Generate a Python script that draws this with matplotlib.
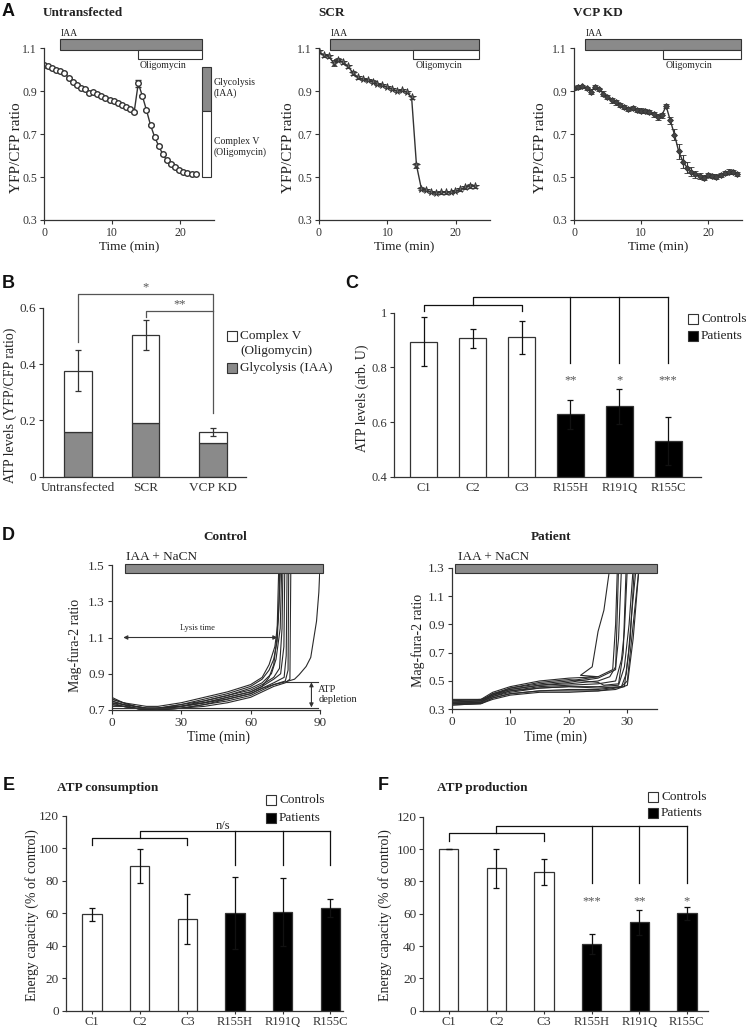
import numpy as np
import matplotlib
matplotlib.use('Agg')
import matplotlib.pyplot as plt
from matplotlib.patches import Rectangle

plt.rcParams['font.family'] = ['Liberation Serif', 'DejaVu Sans']
plt.rcParams['text.color'] = '#222222'
plt.rcParams['axes.edgecolor'] = '#333333'
plt.rcParams['xtick.color'] = '#333333'
plt.rcParams['ytick.color'] = '#333333'

GRAY = '#8a8a8a'
INK = '#333333'

# ---------------- panel A: YFP/CFP ratio over time ----------------
untr_vals = [1.019, 1.014, 1.006, 0.998, 0.992, 0.983, 0.962, 0.944, 0.927, 0.916,
             0.908, 0.892, 0.897, 0.886, 0.877, 0.867, 0.859, 0.853, 0.844, 0.833,
             0.827, 0.816, 0.802, 0.936, 0.877, 0.811, 0.741, 0.686, 0.644, 0.605,
             0.577, 0.559, 0.545, 0.533, 0.525, 0.519, 0.514, 0.516]
untr_err = [0.004, 0.004, 0.004, 0.004, 0.004, 0.004, 0.004, 0.004, 0.004, 0.004,
            0.004, 0.004, 0.004, 0.004, 0.004, 0.004, 0.004, 0.004, 0.004, 0.004,
            0.004, 0.004, 0.004, 0.016, 0.006, 0.006, 0.006, 0.006, 0.005, 0.004,
            0.004, 0.004, 0.004, 0.004, 0.004, 0.004, 0.004, 0.004]
untr_tend = 22.3

scr_vals = [1.084, 1.066, 1.061, 1.030, 1.046, 1.033, 1.014, 0.983, 0.963, 0.955,
            0.951, 0.944, 0.933, 0.926, 0.919, 0.910, 0.900, 0.905, 0.895, 0.871,
            0.555, 0.446, 0.438, 0.431, 0.426, 0.428, 0.428, 0.431, 0.435, 0.443,
            0.452, 0.459, 0.457]
scr_err = [0.008, 0.006, 0.006, 0.012, 0.006, 0.006, 0.006, 0.008, 0.006, 0.005,
           0.005, 0.005, 0.005, 0.005, 0.005, 0.005, 0.005, 0.005, 0.005, 0.006,
           0.012, 0.006, 0.005, 0.005, 0.005, 0.005, 0.005, 0.005, 0.005, 0.006,
           0.007, 0.008, 0.008]
scr_tend = 22.8

vcp_vals = [0.912, 0.919, 0.922, 0.912, 0.897, 0.919, 0.908, 0.888, 0.872, 0.856,
            0.848, 0.834, 0.825, 0.817, 0.822, 0.811, 0.809, 0.806, 0.803, 0.791,
            0.780, 0.788, 0.830, 0.763, 0.697, 0.619, 0.572, 0.544, 0.525, 0.512,
            0.505, 0.497, 0.509, 0.505, 0.502, 0.509, 0.517, 0.525, 0.522, 0.514]
vcp_err = [0.008, 0.008, 0.008, 0.008, 0.010, 0.008, 0.008, 0.010, 0.010, 0.010,
           0.012, 0.010, 0.010, 0.010, 0.010, 0.010, 0.010, 0.010, 0.010, 0.012,
           0.014, 0.012, 0.010, 0.015, 0.025, 0.035, 0.030, 0.025, 0.020, 0.015,
           0.012, 0.010, 0.010, 0.010, 0.010, 0.010, 0.010, 0.010, 0.010, 0.008]
vcp_tend = 24.3

# ---------------- panel B ----------------
b_groups = ['Untransfected', 'SCR', 'VCP KD']
b_glyco = [0.160, 0.191, 0.120]
b_total = [0.377, 0.503, 0.158]
b_err = [0.072, 0.054, 0.015]

# ---------------- panel C ----------------
lines = ['C1', 'C2', 'C3', 'R155H', 'R191Q', 'R155C']
is_patient = [False, False, False, True, True, True]
c_vals = [0.894, 0.907, 0.910, 0.628, 0.658, 0.530]
c_err = [0.090, 0.035, 0.060, 0.052, 0.064, 0.087]
c_stars = ['', '', '', '**', '*', '***']

# ---------------- panel D: mag-fura-2 traces ----------------
ctrl_t = [0, 5, 10, 15, 20, 30, 40, 50, 60]
ctrl_base = [
    [0.77, 0.74, 0.72, 0.71, 0.71, 0.73, 0.76, 0.79, 0.83],
    [0.76, 0.74, 0.73, 0.72, 0.72, 0.74, 0.77, 0.80, 0.84],
    [0.75, 0.73, 0.72, 0.71, 0.71, 0.73, 0.75, 0.78, 0.82],
    [0.74, 0.73, 0.71, 0.70, 0.71, 0.72, 0.75, 0.78, 0.81],
    [0.73, 0.72, 0.71, 0.70, 0.70, 0.72, 0.74, 0.77, 0.80],
    [0.75, 0.73, 0.72, 0.71, 0.71, 0.72, 0.74, 0.76, 0.79],
    [0.74, 0.72, 0.71, 0.70, 0.70, 0.71, 0.73, 0.75, 0.78],
    [0.72, 0.72, 0.71, 0.70, 0.70, 0.71, 0.72, 0.74, 0.77],
    [0.76, 0.74, 0.72, 0.71, 0.71, 0.72, 0.74, 0.77, 0.80],
    [0.73, 0.72, 0.71, 0.70, 0.70, 0.71, 0.73, 0.76, 0.79],
]
ctrl_tail = [
    [(65, 0.87), (68, 0.92), (70, 0.98), (71.5, 1.08), (72.3, 1.3), (72.6, 1.5)],
    [(65, 0.88), (68, 0.95), (70.5, 1.05), (72, 1.2), (73.0, 1.5)],
    [(65, 0.85), (69, 0.90), (71, 0.98), (72.8, 1.15), (73.5, 1.5)],
    [(65, 0.84), (70, 0.88), (72.5, 0.93), (73.6, 1.15), (74.0, 1.5)],
    [(65, 0.83), (70, 0.87), (73, 0.90), (74.4, 1.05), (74.8, 1.5)],
    [(65, 0.82), (70, 0.85), (74.5, 0.88), (75.4, 1.0), (75.8, 1.5)],
    [(65, 0.81), (70, 0.84), (75, 0.86), (76.2, 0.92), (76.5, 1.5)],
    [(65, 0.80), (70, 0.83), (75, 0.85), (77, 0.87), (77.4, 1.5)],
    [(65, 0.83), (68, 0.88), (70, 0.95), (71.4, 1.1), (72.2, 1.5)],
    [(65, 0.82), (70, 0.84), (75, 0.855), (79, 0.87), (81, 0.895), (84, 0.94),
     (86, 0.99), (88.5, 1.19), (89.5, 1.35), (90, 1.5)],
]

pat_t = [0, 5, 7, 10, 15, 20, 25]
pat_base = [
    [0.36, 0.37, 0.42, 0.46, 0.50, 0.52, 0.53],
    [0.35, 0.36, 0.41, 0.45, 0.48, 0.50, 0.53],
    [0.35, 0.35, 0.40, 0.44, 0.47, 0.48, 0.50],
    [0.34, 0.35, 0.39, 0.43, 0.46, 0.47, 0.48],
    [0.34, 0.35, 0.39, 0.42, 0.45, 0.46, 0.46],
    [0.35, 0.36, 0.40, 0.43, 0.45, 0.46, 0.45],
    [0.33, 0.34, 0.38, 0.41, 0.43, 0.44, 0.44],
    [0.36, 0.36, 0.41, 0.44, 0.47, 0.49, 0.52],
    [0.34, 0.34, 0.38, 0.41, 0.43, 0.43, 0.43],
    [0.37, 0.37, 0.40, 0.45, 0.49, 0.51, 0.49],
    [0.33, 0.34, 0.37, 0.40, 0.42, 0.42, 0.43],
]
pat_tail = [
    [(22, 0.54), (24, 0.60), (25, 0.85), (26, 1.0), (27, 1.3)],
    [(26, 0.55), (27.5, 0.58), (28, 0.9), (28.3, 1.3)],
    [(27, 0.53), (28, 0.60), (28.5, 0.8), (29, 1.3)],
    [(28, 0.50), (29, 0.65), (29.5, 0.85), (30, 1.3)],
    [(28.5, 0.47), (29.5, 0.60), (30.3, 0.9), (31, 1.3)],
    [(29, 0.46), (29.8, 0.55), (30.5, 0.8), (31.2, 1.3)],
    [(29, 0.46), (30, 0.50), (31, 0.9), (32, 1.3)],
    [(27, 0.56), (28, 0.58), (28.5, 1.3)],
    [(29.5, 0.46), (30.2, 0.70), (30.8, 1.0), (31.5, 1.3)],
    [(26, 0.47), (28.5, 0.48), (29.3, 0.7), (29.8, 1.3)],
    [(28, 0.44), (30, 0.47), (31, 0.8), (32, 1.3)],
]

# ---------------- panels E, F ----------------
e_vals = [59.4, 89.4, 56.3, 60.0, 60.8, 63.3]
e_err = [3.9, 10.4, 15.4, 22.2, 20.8, 5.7]
f_vals = [100.0, 88.0, 86.0, 41.2, 54.6, 60.2]
f_err = [0.0, 12.0, 8.0, 6.2, 7.7, 4.1]
f_stars = ['', '', '', '***', '**', '*']

W, H = 747, 1027
fig = plt.figure(figsize=(W / 100, H / 100), dpi=100)


def px_ax(l, t, r, b):
    return fig.add_axes([l / W, 1 - b / H, (r - l) / W, (b - t) / H])


def ftxt(x, y, s, **kw):
    fig.text(x / W, 1 - y / H, s, **kw)


def key(x, y, face, label, fs=9.5):
    s = 10
    fig.patches.append(Rectangle((x / W, 1 - (y + s / 2) / H), s / W, s / H,
                                 transform=fig.transFigure, fc=face, ec=INK, lw=0.8))
    ftxt(x + s + 3, y, label, fontsize=fs, va='center', ha='left')


def style(ax, fs=9):
    for s in ['top', 'right']:
        ax.spines[s].set_visible(False)
    for s in ['left', 'bottom']:
        ax.spines[s].set_linewidth(0.9)
    ax.tick_params(direction='out', length=3, width=0.8, labelsize=fs, pad=2)


def panel_letter(x, y, s):
    ftxt(x, y, s, fontsize=13, fontweight='bold', family='Liberation Sans',
         va='center', ha='left', color='#111111')


# ---------------- A ----------------
a_specs = [
    ('Untransfected', untr_vals, untr_err, untr_tend, (44, 214), 17, (2.3, 23.3, 13.8),
     dict(marker='o', ms=4, mfc='white', mec=INK, mew=1.0)),
    ('SCR', scr_vals, scr_err, scr_tend, (319, 490), 288, (1.6, 23.4, 13.8),
     dict(marker='*', ms=5.5, mfc='#666666', mec=INK, mew=0.6)),
    ('VCP KD', vcp_vals, vcp_err, vcp_tend, (574, 742), 540, (1.6, 24.9, 13.3),
     dict(marker='D', ms=3, mfc='#444444', mec=INK, mew=0.6)),
]
for name, vals, err, tend, (l, r), ylx, (t0, t1, tol), mk in a_specs:
    ax = px_ax(l, 48, r, 220)
    t = np.linspace(0, tend, len(vals))
    ax.errorbar(t, vals, yerr=err, color=INK, lw=1.0, ecolor=INK, elinewidth=0.8,
                capsize=2, capthick=0.8, **mk)
    ax.set_xlim(0, 25)
    ax.set_ylim(0.3, 1.1)
    ax.set_yticks([0.3, 0.5, 0.7, 0.9, 1.1])
    ax.set_xticks([0, 10, 20])
    style(ax, fs=8.5)
    ax.add_patch(Rectangle((t0, 1.093), t1 - t0, 0.047, fc=GRAY, ec=INK, lw=0.8, clip_on=False))
    ax.add_patch(Rectangle((tol, 1.047), t1 - tol, 0.046, fc='white', ec=INK, lw=0.8, clip_on=False))
    ax.text(t0 + 0.1, 1.168, 'IAA', fontsize=7, va='center', ha='left')
    ax.text(tol + 0.3, 1.018, 'Oligomycin', fontsize=7, va='center', ha='left')
    ftxt(l - 1, 13, name, fontsize=9.5, fontweight='bold', va='center', ha='left')
    ftxt(ylx, 148, 'YFP/CFP ratio', fontsize=11, rotation=90, va='center', ha='center')
    ftxt((l + r) / 2, 247, 'Time (min)', fontsize=9.5, va='center', ha='center')
    if name == 'Untransfected':
        ax.add_patch(Rectangle((23.3, 0.806), 1.3, 0.206, fc=GRAY, ec=INK, lw=0.8, clip_on=False))
        ax.add_patch(Rectangle((23.3, 0.499), 1.3, 0.307, fc='white', ec=INK, lw=0.8, clip_on=False))
        ax.text(25.0, 0.915, 'Glycolysis\n(IAA)', fontsize=7, va='center', ha='left', linespacing=1.2)
        ax.text(25.0, 0.64, 'Complex V\n(Oligomycin)', fontsize=7, va='center', ha='left', linespacing=1.2)
panel_letter(2, 12, 'A')

# ---------------- B ----------------
ax = px_ax(43, 308, 246, 476.7)
xb = np.arange(len(b_groups))
ax.bar(xb, b_glyco, 0.41, color=GRAY, edgecolor=INK, lw=0.9)
ax.bar(xb, np.array(b_total) - np.array(b_glyco), 0.41, bottom=b_glyco,
       color='white', edgecolor=INK, lw=0.9)
ax.errorbar(xb, b_total, yerr=b_err, fmt='none', ecolor=INK, elinewidth=0.9,
            capsize=2.5, capthick=0.9)
ax.set_xlim(-0.52, 2.49)
ax.set_ylim(0, 0.6)
ax.set_yticks([0, 0.2, 0.4, 0.6])
ax.set_yticklabels(['0', '0.2', '0.4', '0.6'])
ax.set_xticks(xb)
ax.set_xticklabels(b_groups)
style(ax, fs=9.5)
ax.tick_params(axis='x', length=0, pad=4)
ax.plot([0, 0, 2, 2], [0.48, 0.649, 0.649, 0.226], color='#555555', lw=0.9, clip_on=False)
ax.plot([1, 1, 2], [0.567, 0.589, 0.589], color='#555555', lw=0.9, clip_on=False)
ax.text(1, 0.672, '*', fontsize=9, ha='center', va='center', color='#555555')
ax.text(1.5, 0.612, '**', fontsize=9, ha='center', va='center', color='#555555')
ftxt(10, 405, 'ATP levels (YFP/CFP ratio)', fontsize=10, rotation=90, va='center', ha='center')
key(227, 336, 'white', 'Complex V')
ftxt(240, 351, '(Oligomycin)', fontsize=9.5, va='center', ha='left')
key(227, 368, GRAY, 'Glycolysis (IAA)')
panel_letter(2, 283, 'B')

# ---------------- C ----------------
ax = px_ax(394, 312.7, 701, 476.7)
xc = np.arange(len(lines))
colors = ['black' if p else 'white' for p in is_patient]
ax.bar(xc, c_vals, 0.55, color=colors, edgecolor=INK, lw=0.9)
ax.errorbar(xc, c_vals, yerr=c_err, fmt='none', ecolor='#111111', elinewidth=0.9,
            capsize=2.5, capthick=0.9)
ax.set_xlim(-0.61, 5.67)
ax.set_ylim(0.4, 1.0)
ax.set_yticks([0.4, 0.6, 0.8, 1.0])
ax.set_yticklabels(['0.4', '0.6', '0.8', '1'])
ax.set_xticks(xc)
ax.set_xticklabels(lines)
style(ax, fs=9)
ax.tick_params(axis='x', length=0, pad=4)
ax.plot([0, 0, 2, 2], [1.006, 1.03, 1.03, 1.006], color='#111111', lw=0.9, clip_on=False)
ax.plot([1, 1, 5], [1.03, 1.056, 1.056], color='#111111', lw=0.9, clip_on=False)
for i in range(3, 6):
    ax.plot([i, i], [1.056, 0.816], color='#111111', lw=0.9, clip_on=False)
for i, s in enumerate(c_stars):
    if s:
        ax.text(i, 0.752, s, fontsize=9, ha='center', va='center', color='#555555')
ftxt(362, 398, 'ATP levels (arb. U)', fontsize=10, rotation=90, va='center', ha='center')
key(688, 319, 'white', 'Controls')
key(688, 336, 'black', 'Patients')
panel_letter(345, 283, 'C')

# ---------------- D ----------------
ax = px_ax(111.7, 565, 320, 710)
for base, tail in zip(ctrl_base, ctrl_tail):
    tt = ctrl_t + [p[0] for p in tail]
    yy = base + [p[1] for p in tail]
    ax.plot(tt, yy, color='#2a2a2a', lw=0.8)
ax.set_xlim(0, 90)
ax.set_ylim(0.7, 1.5)
ax.set_xticks([0, 30, 60, 90])
ax.set_yticks([0.7, 0.9, 1.1, 1.3, 1.5])
style(ax, fs=9.5)
ax.add_patch(Rectangle((5.8, 1.454), 85.6, 0.05, fc=GRAY, ec=INK, lw=0.8, clip_on=False, zorder=5))
ax.text(6.2, 1.545, 'IAA + NaCN', fontsize=9.5, va='center', ha='left')
ax.annotate('', xy=(5, 1.1), xytext=(71.6, 1.1),
            arrowprops=dict(arrowstyle='<|-|>', color=INK, lw=0.8, mutation_scale=6,
                            shrinkA=0, shrinkB=0))
ax.text(37, 1.155, 'Lysis time', fontsize=6, ha='center', va='center')
ax.plot([75.5, 89], [0.855, 0.855], color=INK, lw=0.8, clip_on=False)
ax.plot([0, 89], [0.712, 0.712], color=INK, lw=0.8, clip_on=False)
ax.annotate('', xy=(86.3, 0.714), xytext=(86.3, 0.853),
            arrowprops=dict(arrowstyle='<|-|>', color=INK, lw=0.8, mutation_scale=6,
                            shrinkA=0, shrinkB=0), annotation_clip=False)
ax.text(89.3, 0.785, 'ATP\ndepletion', fontsize=7.5, ha='left', va='center', linespacing=1.1)
ftxt(225, 537, 'Control', fontsize=9.5, fontweight='bold', va='center', ha='center')
ftxt(75, 645, 'Mag-fura-2 ratio', fontsize=10, rotation=90, va='center', ha='center')
ftxt(218, 737, 'Time (min)', fontsize=10, va='center', ha='center')

ax = px_ax(451.7, 567.7, 656.6, 709.3)
for base, tail in zip(pat_base, pat_tail):
    tt = pat_t + [p[0] for p in tail]
    yy = base + [p[1] for p in tail]
    ax.plot(tt, yy, color='#2a2a2a', lw=0.8)
ax.set_xlim(0, 35)
ax.set_ylim(0.3, 1.3)
ax.set_xticks([0, 10, 20, 30])
ax.set_yticks([0.3, 0.5, 0.7, 0.9, 1.1, 1.3])
style(ax, fs=9.5)
ax.add_patch(Rectangle((0.6, 1.26), 34.4, 0.065, fc=GRAY, ec=INK, lw=0.8, clip_on=False, zorder=5))
ax.text(1.0, 1.375, 'IAA + NaCN', fontsize=9.5, va='center', ha='left')
ftxt(551, 537, 'Patient', fontsize=9.5, fontweight='bold', va='center', ha='center')
ftxt(418, 640, 'Mag-fura-2 ratio', fontsize=10, rotation=90, va='center', ha='center')
ftxt(556, 737, 'Time (min)', fontsize=10, va='center', ha='center')
panel_letter(2, 535, 'D')

# ---------------- E, F ----------------
ef_specs = [
    ('E', 'ATP consumption', e_vals, e_err, (65.7, 816, 343.3), (-0.55, 5.27),
     (102.3, 106.4, 110.5, 89.5), (266, 800, 818), 32, 3),
    ('F', 'ATP production', f_vals, f_err, (423.3, 816.7, 708.3), (-0.535, 5.45),
     (105.2, 109.7, 114.4, 79.2), (648, 797, 813), 385, 378),
]
for letter, title, vals, err, (l, t, r), xlim, (y0, y1, y2, y3), (kx, ky1, ky2), ylx, lx in ef_specs:
    ax = px_ax(l, t, r, 1010.7)
    x = np.arange(len(lines))
    colors = ['black' if p else 'white' for p in is_patient]
    ax.bar(x, vals, 0.405, color=colors, edgecolor=INK, lw=0.9)
    ax.errorbar(x, vals, yerr=err, fmt='none', ecolor='#111111', elinewidth=0.9,
                capsize=2.5, capthick=0.9)
    ax.set_xlim(*xlim)
    ax.set_ylim(0, 120)
    ax.set_yticks(range(0, 121, 20))
    ax.set_xticks(x)
    ax.set_xticklabels(lines)
    style(ax, fs=9.5)
    ax.tick_params(axis='x', labelsize=9, pad=1, length=2.5)
    ax.plot([0, 0, 2, 2], [y0, y1, y1, y0], color='#111111', lw=0.9, clip_on=False)
    ax.plot([1, 1, 5], [y1, y2, y2], color='#111111', lw=0.9, clip_on=False)
    for i in range(3, 6):
        ax.plot([i, i], [y2, y3], color='#111111', lw=0.9, clip_on=False)
    if letter == 'E':
        ax.text(2.75, 113.6, 'n/s', fontsize=9, ha='center', va='center')
    else:
        for i, s in enumerate(f_stars):
            if s:
                ax.text(i, 67.5, s, fontsize=9, ha='center', va='center', color='#555555')
    ftxt(ylx, 915, 'Energy capacity (% of control)', fontsize=10, rotation=90,
         va='center', ha='center')
    ftxt(l - 9 if letter == 'E' else l + 14, 788, title, fontsize=9.5, fontweight='bold',
         va='center', ha='left')
    key(kx, ky1, 'white', 'Controls')
    key(kx, ky2, 'black', 'Patients')
    panel_letter(lx, 785, letter)

fig.savefig('out.png', dpi=100)
